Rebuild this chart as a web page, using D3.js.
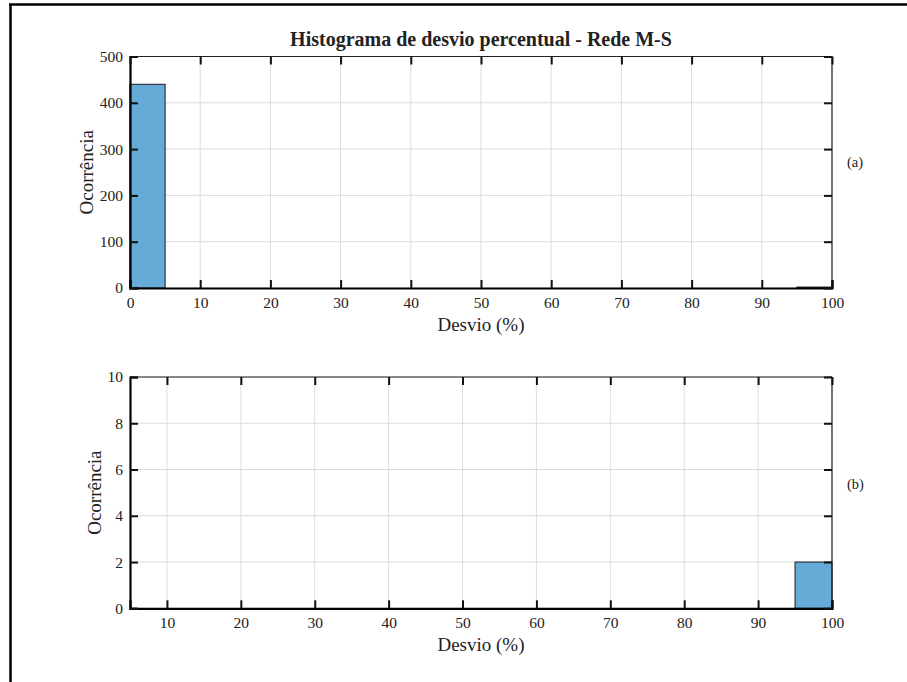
<!DOCTYPE html>
<html><head><meta charset="utf-8">
<script src="https://cdn.jsdelivr.net/npm/d3@7"></script>
<style>
html,body{margin:0;padding:0;background:#fff;}
svg{display:block;}
text{font-family:"Liberation Serif",serif;fill:#222;}
</style></head>
<body>
<script>
// ---- data ----
const titleText = "Histograma de desvio percentual - Rede M-S";
const xLabel = "Desvio (%)";
const yLabel = "Ocorrência";
const panelTags = ["(a)", "(b)"];

const binEdgesA = [0,5,10,15,20,25,30,35,40,45,50,55,60,65,70,75,80,85,90,95,100];
const countsA   = [440,0,0,0,0,0,0,0,0,0,0,0,0,0,0,0,0,0,0,2];
const binEdgesB = [5,10,15,20,25,30,35,40,45,50,55,60,65,70,75,80,85,90,95,100];
const countsB   = [0,0,0,0,0,0,0,0,0,0,0,0,0,0,0,0,0,0,2];

const xTicksA = [0,10,20,30,40,50,60,70,80,90,100];
const yTicksA = [0,100,200,300,400,500];
const xTicksB = [10,20,30,40,50,60,70,80,90,100];
const yTicksB = [0,2,4,6,8,10];

const W = 907, H = 682;
const svg = d3.select("body").append("svg").attr("width", W).attr("height", H);

// page frame (scanned document border)
svg.append("line").attr("x1", 9).attr("x2", W).attr("y1", 4.5).attr("y2", 4.5)
  .attr("stroke", "#000").attr("stroke-width", 2.5);
svg.append("line").attr("x1", 10.5).attr("x2", 10.5).attr("y1", 4).attr("y2", H)
  .attr("stroke", "#000").attr("stroke-width", 2.5);

function panel(cfg) {
  const {left, right, top, bottom, xDomain, yDomain, edges, counts, xTicks, yTicks, tag, tagY, yLabelX} = cfg;
  const x = d3.scaleLinear().domain(xDomain).range([left, right]);
  const y = d3.scaleLinear().domain(yDomain).range([bottom, top]);
  const g = svg.append("g");

  // grid
  g.append("g").selectAll("line").data(xTicks).join("line")
    .attr("x1", d => x(d)).attr("x2", d => x(d)).attr("y1", top).attr("y2", bottom)
    .attr("stroke", "#dcdcdc").attr("stroke-width", 1);
  g.append("g").selectAll("line").data(yTicks).join("line")
    .attr("x1", left).attr("x2", right).attr("y1", d => y(d)).attr("y2", d => y(d))
    .attr("stroke", "#dcdcdc").attr("stroke-width", 1);

  // bars
  const bins = counts.map((c, i) => ({x0: edges[i], x1: edges[i + 1], c}));
  g.append("g").selectAll("rect").data(bins).join("rect")
    .attr("x", d => x(d.x0)).attr("width", d => x(d.x1) - x(d.x0))
    .attr("y", d => y(d.c)).attr("height", d => y(0) - y(d.c))
    .attr("fill", "#66aad7").attr("stroke", "#1a1a1a").attr("stroke-width", 1);

  // box
  g.append("line").attr("x1", left).attr("x2", right).attr("y1", top).attr("y2", top)
    .attr("stroke", "#222").attr("stroke-width", 1.2);
  g.append("line").attr("x1", right).attr("x2", right).attr("y1", top).attr("y2", bottom)
    .attr("stroke", "#222").attr("stroke-width", 1.2);

  // axes
  const ax = d3.axisBottom(x).tickValues(xTicks).tickSize(-8).tickPadding(9).tickFormat(d3.format("d"));
  const axG = g.append("g").attr("transform", `translate(0,${bottom})`).call(ax);
  const ay = d3.axisLeft(y).tickValues(yTicks).tickSize(-8).tickPadding(7).tickFormat(d3.format("d"));
  const ayG = g.append("g").attr("transform", `translate(${left},0)`).call(ay);
  [axG, ayG].forEach(s => {
    s.attr("font-family", null);
    s.select(".domain").attr("stroke", "#000").attr("stroke-width", 2.2);
    s.selectAll(".tick line").attr("stroke", "#111").attr("stroke-width", 2);
    s.selectAll(".tick text").attr("font-size", 15.5).attr("fill", "#222")
      .style("font-family", '"Liberation Serif", serif');
  });
  // top & right ticks
  const axT = d3.axisTop(x).tickValues(xTicks).tickSize(-8).tickFormat("");
  const axTG = g.append("g").attr("transform", `translate(0,${top})`).call(axT);
  const ayR = d3.axisRight(y).tickValues(yTicks).tickSize(-8).tickFormat("");
  const ayRG = g.append("g").attr("transform", `translate(${right},0)`).call(ayR);
  [axTG, ayRG].forEach(s => {
    s.select(".domain").remove();
    s.selectAll(".tick line").attr("stroke", "#111").attr("stroke-width", 2);
  });

  // labels
  g.append("text").attr("x", (left + right) / 2).attr("y", bottom + 43)
    .attr("text-anchor", "middle").attr("font-size", 19).text(xLabel);
  g.append("text").attr("transform", `translate(${yLabelX},${(top + bottom) / 2}) rotate(-90)`)
    .attr("text-anchor", "middle").attr("font-size", 19).text(yLabel);
  g.append("text").attr("x", right + 15).attr("y", tagY).attr("font-size", 14.5).text(tag);
  return {x, y};
}

// title
svg.append("text").attr("x", 481).attr("y", 46).attr("text-anchor", "middle")
  .attr("font-size", 20).attr("font-weight", "bold").attr("fill", "#000").text(titleText);

panel({left: 130, right: 832, top: 56.5, bottom: 288, xDomain: [0, 100], yDomain: [0, 500],
  edges: binEdgesA, counts: countsA, xTicks: xTicksA, yTicks: yTicksA,
  tag: panelTags[0], tagY: 167, yLabelX: 93});
panel({left: 130, right: 832, top: 377, bottom: 608.3, xDomain: [5, 100], yDomain: [0, 10],
  edges: binEdgesB, counts: countsB, xTicks: xTicksB, yTicks: yTicksB,
  tag: panelTags[1], tagY: 489, yLabelX: 101});
</script>
</body></html>
